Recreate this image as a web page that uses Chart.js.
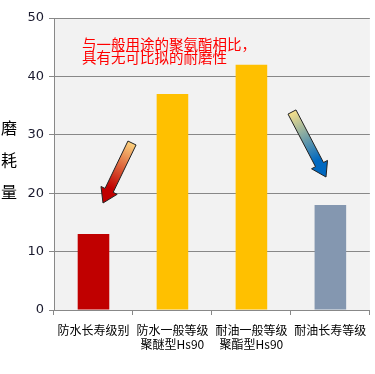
<!DOCTYPE html>
<html>
<head>
<meta charset="utf-8">
<script src="https://cdn.jsdelivr.net/npm/chart.js@4/dist/chart.umd.min.js"></script>
<style>
  html, body { margin: 0; padding: 0; background: #fff; }
  #wrap { width: 375px; height: 374px; position: relative; }
</style>
</head>
<body>
<div id="wrap"><canvas id="chart"></canvas></div>
<script>
// ─ Data ──────────────────────────────────────────────────────────────────────
const categories = [
  ['防水长寿级别'],
  ['防水一般等级', '聚醚型Hs90'],
  ['耐油一般等级', '聚酯型Hs90'],
  ['耐油长寿等级']
];
const wearValues = [13, 37, 42, 18];
const barColors  = ['#c00000', '#ffc000', '#ffc000', '#8497b0'];
const yTitle     = ['磨', '耗', '量'];
const noteLines  = ['与一般用途的聚氨酯相比，', '具有无可比拟的耐磨性'];

const CJK = '"Noto Sans CJK SC", "Noto Sans", sans-serif';
Chart.defaults.font.family = CJK;

// ─ Plot background + annotations ─────────────────────────────────────────────
const decor = {
  id: 'decor',
  beforeDraw(chart) {
    const { ctx, chartArea: a } = chart;
    ctx.save();
    ctx.fillStyle = '#f2f2f2';
    ctx.fillRect(a.left, a.top, a.right - a.left, a.bottom - a.top);
    ctx.restore();
  },
  afterDraw(chart) {
    const { ctx } = chart;
    ctx.save();
    // y title, stacked characters
    ctx.fillStyle = '#000';
    ctx.font = '16px ' + CJK;
    ctx.textAlign = 'center';
    ctx.textBaseline = 'middle';
    yTitle.forEach((c, i) => ctx.fillText(c, 9, 128 + i * 32));

    // red note
    ctx.fillStyle = '#ff0000';
    ctx.font = '14.5px ' + CJK;
    ctx.textAlign = 'left';
    noteLines.forEach((t, i) => ctx.fillText(t, 82, 44 + i * 13));

    drawArrow(ctx, 132, 143, 103, 203, '#fcd27e', '#c00000');
    drawArrow(ctx, 292, 112, 326, 177, '#f7e08a', '#0068c0');
    ctx.restore();
  }
};

function drawArrow(ctx, x1, y1, x2, y2, c1, c2) {
  const dx = x2 - x1, dy = y2 - y1;
  const len = Math.hypot(dx, dy);
  const ux = dx / len, uy = dy / len;
  const nx = -uy, ny = ux;
  const sw = 4.5, hw = 9, hl = 14;
  const bx = x2 - ux * hl, by = y2 - uy * hl;
  const pts = [
    [x1 + nx * sw, y1 + ny * sw],
    [bx + nx * sw, by + ny * sw],
    [bx + nx * hw, by + ny * hw],
    [x2, y2],
    [bx - nx * hw, by - ny * hw],
    [bx - nx * sw, by - ny * sw],
    [x1 - nx * sw, y1 - ny * sw]
  ];
  const g = ctx.createLinearGradient(x1, y1, x2, y2);
  g.addColorStop(0, c1);
  g.addColorStop(0.75, c2);
  g.addColorStop(1, c2);
  ctx.beginPath();
  pts.forEach(([x, y], i) => i ? ctx.lineTo(x, y) : ctx.moveTo(x, y));
  ctx.closePath();
  ctx.fillStyle = g;
  ctx.fill();
  ctx.lineWidth = 1;
  ctx.strokeStyle = '#222';
  ctx.stroke();
}

// ─ Chart ─────────────────────────────────────────────────────────────────────
new Chart(document.getElementById('chart'), {
  type: 'bar',
  data: {
    labels: categories,
    datasets: [{
      data: wearValues,
      backgroundColor: barColors,
      borderWidth: 0,
      categoryPercentage: 1,
      barPercentage: 0.4
    }]
  },
  options: {
    responsive: true,
    maintainAspectRatio: false,
    animation: false,
    layout: { padding: { top: 18, right: 5, left: 0, bottom: 0 } },
    plugins: { legend: { display: false }, tooltip: { enabled: false } },
    scales: {
      x: {
        afterFit(s) { s.height = 64; },
        grid: { offset: true, drawOnChartArea: false, tickLength: 5, color: '#888' },
        border: { color: '#888' },
        ticks: { color: '#000', font: { size: 12 }, padding: 8, maxRotation: 0, autoSkip: false }
      },
      y: {
        min: 0, max: 50,
        afterFit(s) { s.width = 54; },
        grid: { color: '#888', tickLength: 5 },
        border: { color: '#888' },
        ticks: { stepSize: 10, color: '#1a1a2e', font: { size: 13, family: 'Verdana, "DejaVu Sans", sans-serif' }, padding: 5 }
      }
    }
  },
  plugins: [decor]
});
</script>
</body>
</html>
